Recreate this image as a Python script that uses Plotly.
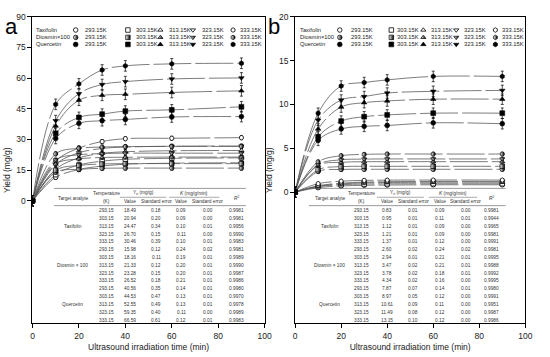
import plotly.graph_objects as go

# ---------------- data ----------------
TIME = [0, 10, 20, 30, 40, 60, 90]
TEMPS = ["293.15", "303.15", "313.15", "323.15", "333.15"]
KEY_LABELS = ["293.15K", "303.15K", "313.15K", "323.15K", "333.15K"]
ANALYTES = ["Taxifolin", "Diosmin×100", "Quercetin"]
TABLE_ANALYTES = ["Taxifolin", "Diosmin × 100", "Quercetin"]

# panel a: yield (mg/g), one list per temperature
A_TAX = [[0, 11.5, 15.3, 17.0, 17.9, 18.4, 18.6],
         [0, 12.8, 17.5, 19.4, 20.3, 20.8, 21.0],
         [0, 15.5, 21.0, 23.2, 24.0, 24.5, 24.6],
         [0, 17.8, 23.5, 25.6, 26.3, 26.7, 26.8],
         [0, 19.5, 25.8, 29.0, 30.4, 30.6, 30.9]]
A_DIO = [[0, 14.0, 15.4, 15.9, 16.0, 16.0, 16.0],
         [0, 15.0, 17.3, 18.0, 18.2, 18.2, 18.2],
         [0, 18.0, 20.5, 21.2, 21.3, 21.4, 21.4],
         [0, 20.0, 22.5, 23.1, 23.3, 23.3, 23.3],
         [0, 23.0, 25.7, 26.3, 26.5, 26.6, 26.6]]
A_QUE = [[0, 30.5, 37.9, 39.2, 39.8, 41.0, 41.2],
         [0, 33.0, 40.8, 42.4, 43.9, 44.5, 46.0],
         [0, 36.6, 49.2, 51.6, 52.1, 53.0, 53.8],
         [0, 39.2, 52.4, 56.9, 58.3, 59.6, 60.1],
         [0, 47.2, 57.2, 64.0, 66.0, 67.0, 67.3]]
A_ERR = [1.0, 1.0, 2.6]

# panel b
B_TAX = [[0, 0.50, 0.70, 0.77, 0.80, 0.83, 0.83],
         [0, 0.62, 0.84, 0.91, 0.94, 0.95, 0.95],
         [0, 0.66, 0.93, 1.05, 1.09, 1.12, 1.12],
         [0, 0.72, 1.01, 1.13, 1.18, 1.21, 1.21],
         [0, 0.96, 1.24, 1.33, 1.36, 1.37, 1.37]]
B_DIO = [[0, 2.35, 2.58, 2.60, 2.60, 2.60, 2.60],
         [0, 2.55, 2.90, 2.94, 2.94, 2.94, 2.94],
         [0, 3.05, 3.40, 3.46, 3.47, 3.47, 3.47],
         [0, 3.15, 3.68, 3.76, 3.78, 3.78, 3.78],
         [0, 3.45, 4.15, 4.30, 4.34, 4.34, 4.34]]
B_QUE = [[0, 5.9, 7.2, 7.5, 7.6, 7.9, 7.8],
         [0, 6.3, 8.1, 8.6, 8.8, 9.0, 9.0],
         [0, 7.2, 9.7, 10.2, 10.4, 10.6, 10.6],
         [0, 8.2, 10.5, 10.9, 11.3, 11.5, 11.6],
         [0, 9.0, 12.1, 12.5, 12.8, 13.2, 13.2]]
B_ERR = [0.15, 0.2, 0.6]

# tables: per analyte lists over temperatures
A_YE = [[18.49, 20.94, 24.47, 26.70, 30.46],
        [15.98, 18.16, 21.33, 23.28, 26.52],
        [40.56, 44.53, 52.55, 59.35, 66.59]]
A_YE_SE = [[0.18, 0.20, 0.34, 0.15, 0.39],
           [0.12, 0.11, 0.12, 0.15, 0.18],
           [0.35, 0.47, 0.49, 0.40, 0.61]]
A_K = [[0.09, 0.09, 0.10, 0.11, 0.10],
       [0.24, 0.19, 0.20, 0.20, 0.21],
       [0.14, 0.13, 0.13, 0.11, 0.12]]
A_K_SE = [[0.00, 0.00, 0.01, 0.00, 0.01],
          [0.02, 0.01, 0.01, 0.01, 0.01],
          [0.01, 0.01, 0.01, 0.00, 0.01]]
A_R2 = [[0.9981, 0.9981, 0.9956, 0.9990, 0.9983],
        [0.9981, 0.9989, 0.9990, 0.9987, 0.9986],
        [0.9980, 0.9970, 0.9978, 0.9989, 0.9983]]

B_YE = [[0.83, 0.95, 1.12, 1.21, 1.37],
        [2.60, 2.94, 3.47, 3.78, 4.34],
        [7.87, 8.97, 10.61, 11.49, 13.15]]
B_YE_SE = [[0.01, 0.01, 0.01, 0.01, 0.01],
           [0.02, 0.01, 0.02, 0.02, 0.02],
           [0.07, 0.05, 0.09, 0.08, 0.10]]
B_K = [[0.09, 0.11, 0.09, 0.09, 0.12],
       [0.24, 0.21, 0.21, 0.18, 0.16],
       [0.14, 0.12, 0.11, 0.12, 0.12]]
B_K_SE = [[0.00, 0.01, 0.00, 0.00, 0.00],
          [0.02, 0.01, 0.01, 0.01, 0.00],
          [0.01, 0.00, 0.00, 0.00, 0.00]]
B_R2 = [[0.9981, 0.9944, 0.9965, 0.9981, 0.9991],
        [0.9981, 0.9995, 0.9988, 0.9992, 0.9995],
        [0.9980, 0.9991, 0.9951, 0.9987, 0.9986]]

# ---------------- layout constants ----------------
W, H = 550, 357
FONT = "Liberation Sans, Arial, sans-serif"
SYMBOLS = ["circle", "square", "triangle-up", "triangle-down", "hexagon"]


def px(x):
    return x / W


def py(y):
    return 1 - y / H


PANELS = {
    "a": dict(x0=31, x1=267, xa="x", ya="y", xk="x3", yk="y3",
              yrange=[-60, 90], yticks=[0, 15, 30, 45, 60, 75, 90],
              data=[A_TAX, A_DIO, A_QUE], err=A_ERR,
              tab=[A_YE, A_YE_SE, A_K, A_K_SE, A_R2],
              cols=[72, 106, 130, 157, 182, 209, 238], tline=(53, 248),
              ye_hdr=(120, 167), k_hdr=(170, 221),
              key_sym=[0.186, 0.411, 0.551, 0.691, 0.864],
              key_txt=[0.218, 0.436, 0.581, 0.720, 0.886], key_row=0.008,
              letter=(10, 22)),
    "b": dict(x0=298, x1=532, xa="x2", ya="y2", xk="x4", yk="y4",
              yrange=[-15, 20], yticks=[0, 5, 10, 15, 20],
              data=[B_TAX, B_DIO, B_QUE], err=B_ERR,
              tab=[B_YE, B_YE_SE, B_K, B_K_SE, B_R2],
              cols=[333, 365, 391.7, 418, 445, 471.7, 498], tline=(312, 512),
              ye_hdr=(381, 429), k_hdr=(434, 483),
              key_sym=[0.194, 0.418, 0.557, 0.700, 0.870],
              key_txt=[0.234, 0.436, 0.582, 0.725, 0.892], key_row=0.014,
              letter=(277, 22)),
}
Y_TOP, Y_BOT = 12, 323
KEY_ROWS = [0.957, 0.933, 0.910]


def marker_style(analyte, sym):
    if analyte == 0:
        return dict(symbol=sym, size=4.5, color="white",
                    line=dict(color="black", width=0.8))
    if analyte == 1:
        return dict(symbol=sym, size=4.5, color="white",
                    gradient=dict(type="horizontal", color="black"),
                    line=dict(color="black", width=0.7))
    return dict(symbol=sym, size=4.8, color="black",
                line=dict(color="black", width=0.6))


fig = go.Figure()
ann = []
shapes = []

for name, P in PANELS.items():
    # smooth lines through the data
    for a, series in enumerate(P["data"]):
        for t, ys in enumerate(series):
            fig.add_trace(go.Scatter(
                x=TIME, y=ys, mode="lines", xaxis=P["xa"], yaxis=P["ya"],
                line=dict(color="#5a5a5a", width=0.8, shape="spline",
                          dash="38px,4px"),
                hoverinfo="skip", showlegend=False))
    for a, series in enumerate(P["data"]):
        for t, ys in enumerate(series):
            fig.add_trace(go.Scatter(
                x=TIME, y=ys, mode="markers", xaxis=P["xa"], yaxis=P["ya"],
                marker=marker_style(a, SYMBOLS[t]),
                error_y=dict(type="constant", value=P["err"][a],
                             thickness=0.7, width=1.5, color="black"),
                showlegend=False))
    # key inside panel
    for a in range(3):
        for t in range(5):
            fig.add_trace(go.Scatter(
                x=[P["key_sym"][t]], y=[KEY_ROWS[a]], mode="markers",
                xaxis=P["xk"], yaxis=P["yk"],
                marker=marker_style(a, SYMBOLS[t]), showlegend=False,
                hoverinfo="skip"))
            ann.append(dict(x=P["key_txt"][t], y=KEY_ROWS[a],
                            xref=P["xa"] + " domain", yref=P["ya"] + " domain",
                            text=KEY_LABELS[t], showarrow=False, xanchor="left",
                            yanchor="middle", font=dict(size=5.8, family=FONT,
                                                        color="#222")))
        ann.append(dict(x=P["key_row"], y=KEY_ROWS[a],
                        xref=P["xa"] + " domain", yref=P["ya"] + " domain",
                        text=ANALYTES[a], showarrow=False, xanchor="left",
                        yanchor="middle",
                        font=dict(size=5.8, family=FONT, color="#222")))

    # panel letter
    lx, ly = P["letter"]
    ann.append(dict(x=px(lx), y=py(ly), xref="paper", yref="paper", text=name,
                    showarrow=False, xanchor="center", yanchor="middle",
                    borderpad=0,
                    font=dict(size=22, family=FONT, color="black")))

    # table
    cols = P["cols"]
    tf = dict(size=4.8, family=FONT, color="#333")

    def t_add(x, y, text):
        ann.append(dict(x=px(x), y=py(y), xref="paper", yref="paper",
                        text=text, showarrow=False, xanchor="center",
                        yanchor="middle", font=tf))

    def h_line(x0, x1, y, w=0.6):
        shapes.append(dict(type="line", xref="paper", yref="paper",
                           x0=px(x0), x1=px(x1), y0=py(y), y1=py(y),
                           line=dict(color="#555", width=w)))

    h_line(P["tline"][0], P["tline"][1], 186)
    h_line(P["ye_hdr"][0], P["ye_hdr"][1], 195, 0.5)
    h_line(P["k_hdr"][0], P["k_hdr"][1], 195, 0.5)
    h_line(P["tline"][0], P["tline"][1], 203.5)
    t_add(cols[0], 196, "Target analyte")
    t_add(cols[1], 191, "Temperature")
    t_add(cols[1], 199.5, "(K)")
    t_add((P["ye_hdr"][0] + P["ye_hdr"][1]) / 2, 191, "Y<sub>e</sub> (mg/g)")
    t_add((P["k_hdr"][0] + P["k_hdr"][1]) / 2, 191, "<i>K</i> (mg/g/min)")
    t_add(cols[2], 199.5, "Value")
    t_add(cols[3], 199.5, "Standard error")
    t_add(cols[4], 199.5, "Value")
    t_add(cols[5], 199.5, "Standard error")
    t_add(cols[6], 196, "<i>R</i><sup>2</sup>")
    ye, ye_se, k, k_se, r2 = P["tab"]
    for a in range(3):
        for t in range(5):
            i = a * 5 + t
            yy = 208.5 + i * 7.93
            t_add(cols[1], yy, TEMPS[t])
            t_add(cols[2], yy, f"{ye[a][t]:.2f}")
            t_add(cols[3], yy, f"{ye_se[a][t]:.2f}")
            t_add(cols[4], yy, f"{k[a][t]:.2f}")
            t_add(cols[5], yy, f"{k_se[a][t]:.2f}")
            t_add(cols[6], yy, f"{r2[a][t]:.4f}")
        t_add(cols[0], 208.5 + (a * 5 + 2) * 7.93, TABLE_ANALYTES[a])

axis_common = dict(showline=True, linecolor="black", linewidth=1, mirror=True,
                   ticks="outside", ticklen=4, tickwidth=1, tickcolor="black",
                   showgrid=False, zeroline=False,
                   tickfont=dict(size=8.5, family=FONT, color="#222"))

layout = dict(width=W, height=H, margin=dict(l=0, r=0, t=0, b=0),
              paper_bgcolor="white", plot_bgcolor="white", showlegend=False,
              annotations=ann, shapes=shapes)

for name, P in PANELS.items():
    xk = "xaxis" if P["xa"] == "x" else "xaxis2"
    yk = "yaxis" if P["ya"] == "y" else "yaxis2"
    dom_x = [px(P["x0"]), px(P["x1"])]
    dom_y = [py(Y_BOT), py(Y_TOP)]
    layout[xk] = dict(axis_common, domain=dom_x, range=[0, 100],
                      tickvals=[0, 20, 40, 60, 80, 100], anchor=P["ya"],
                      title=dict(text="Ultrasound irradiation time (min)",
                                 standoff=4,
                                 font=dict(size=8.5, family=FONT, color="#222")))
    layout[yk] = dict(axis_common, domain=dom_y, range=P["yrange"],
                      tickvals=P["yticks"], anchor=P["xa"],
                      title=dict(text="Yield (mg/g)", standoff=4,
                                 font=dict(size=8.5, family=FONT, color="#222")))
    xo = "xaxis3" if name == "a" else "xaxis4"
    yo = "yaxis3" if name == "a" else "yaxis4"
    layout[xo] = dict(overlaying=P["xa"], range=[0, 1], visible=False,
                      anchor=P["yk"])
    layout[yo] = dict(overlaying=P["ya"], range=[0, 1], visible=False,
                      anchor=P["xk"])

fig.update_layout(**layout)
fig.write_html("out.html", config={"displayModeBar": False},
               post_script="document.body.style.margin='0px';")
